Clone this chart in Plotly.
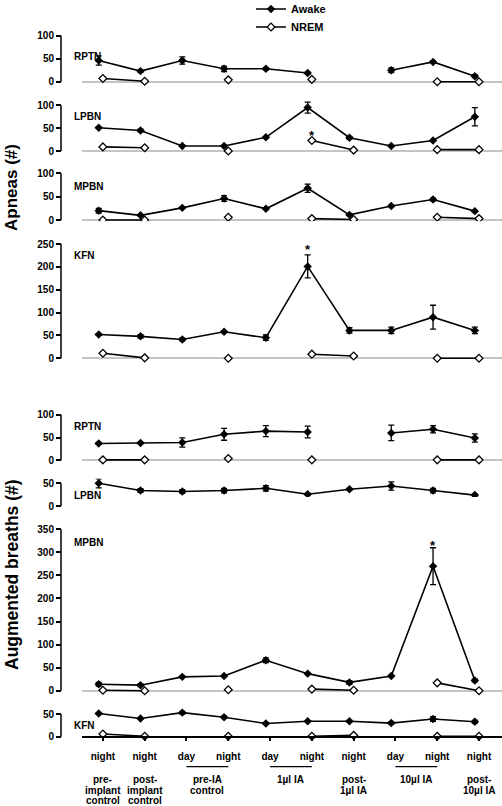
import plotly.graph_objects as go

W, H = 502, 806

# ---------------- data ----------------
CATEGORIES = ["pre-implant night", "post-implant night", "pre-IA day", "pre-IA night",
              "1ul day", "1ul night", "post-1ul night", "10ul day", "10ul night", "post-10ul night"]
TICK_TEXT = ["night", "night", "day", "night", "day", "night", "night", "day", "night", "night"]
GROUP_LABELS = [(0, ["pre-", "implant", "control"]),
                (1, ["post-", "implant", "control"]),
                (2.5, ["pre-IA", "control"]),
                (4.5, ["1µl IA"]),
                (6, ["post-", "1µl IA"]),
                (7.5, ["10µl IA"]),
                (9, ["post-", "10µl IA"])]
GROUP_UNDERLINES = [(2, 3), (4, 5), (7, 8)]

# Apneas (#)
APN_RPTN_AWAKE = [46, 23, 46, 28, 28, 19, None, 25, 43, 12]
APN_RPTN_AWAKE_SE = [10, 2, 8, 6, 2, 2, 0, 5, 2, 3]
APN_RPTN_NREM = [7, 1, None, 4, None, 5, None, None, 0, 0]

APN_LPBN_AWAKE = [51, 45, 11, 11, 30, 95, 29, 11, 23, 75]
APN_LPBN_AWAKE_SE = [1, 3, 1, 1, 1, 12, 3, 1, 1, 20]
APN_LPBN_NREM = [9, 7, None, 0, None, 23, 2, None, 3, 3]

APN_MPBN_AWAKE = [20, 10, 26, 46, 24, 68, 11, 30, 44, 19]
APN_MPBN_AWAKE_SE = [5, 1, 1, 6, 1, 9, 1, 1, 3, 1]
APN_MPBN_NREM = [0, 0, None, 6, None, 3, 1, None, 6, 3]

APN_KFN_AWAKE = [52, 48, 41, 58, 45, 201, 61, 61, 90, 61]
APN_KFN_AWAKE_SE = [2, 4, 3, 2, 6, 25, 6, 7, 26, 7]
APN_KFN_NREM = [11, 1, None, 0, None, 9, 5, None, 0, 0]

# Augmented breaths (#)
AUG_RPTN_AWAKE = [37, 38, 39, 57, 64, 62, None, 60, 68, 49]
AUG_RPTN_AWAKE_SE = [2, 1, 10, 13, 12, 13, 0, 17, 8, 9]
AUG_RPTN_NREM = [1, 1, None, 4, None, 1, None, None, 1, 1]

AUG_LPBN_AWAKE = [50, 34, 32, 34, 39, 26, 37, 44, 34, 24]
AUG_LPBN_AWAKE_SE = [10, 4, 4, 5, 6, 2, 2, 9, 5, 2]
AUG_LPBN_NREM = [0, 4, None, 1, None, 1.5, 1.5, None, 4, 1.5]

AUG_MPBN_AWAKE = [14, 12, 30, 32, 66, 37, 18, 32, 270, 22]
AUG_MPBN_AWAKE_SE = [4, 3, 1, 1, 5, 1, 4, 1, 40, 3]
AUG_MPBN_NREM = [1, 0, None, 2, None, 3.5, 1, None, 17, 0]

AUG_KFN_AWAKE = [51, 40, 53, 43, 29, 34, 34, 30, 39, 33]
AUG_KFN_AWAKE_SE = [1, 1, 3, 2, 1, 1, 2, 3, 5, 3]
AUG_KFN_NREM = [6, 1, None, 1, None, 1, 3, None, 1, 1]

# significance marks: (panel number, series, category index, height of the mark in data units)
STARS = [(2, "nrem", 5, 40), (4, "awake", 5, 243), (7, "awake", 8, 321)]

# panel: (label, awake, awake_se, nrem, tickvals, axis top, zero pixel, top pixel, label pixel y)
PANELS = [
    ("RPTN", APN_RPTN_AWAKE, APN_RPTN_AWAKE_SE, APN_RPTN_NREM, [0, 50, 100], 100, 81.7, 35.7, 56.7),
    ("LPBN", APN_LPBN_AWAKE, APN_LPBN_AWAKE_SE, APN_LPBN_NREM, [0, 50, 100], 100, 151.0, 105.3, 116.7),
    ("MPBN", APN_MPBN_AWAKE, APN_MPBN_AWAKE_SE, APN_MPBN_NREM, [0, 50, 100], 100, 220.0, 173.3, 186.7),
    ("KFN", APN_KFN_AWAKE, APN_KFN_AWAKE_SE, APN_KFN_NREM, [0, 50, 100, 150, 200, 250], 250, 358.3, 244.0, 255.0),
    ("RPTN", AUG_RPTN_AWAKE, AUG_RPTN_AWAKE_SE, AUG_RPTN_NREM, [0, 50, 100], 100, 460.3, 414.7, 426.0),
    ("LPBN", AUG_LPBN_AWAKE, AUG_LPBN_AWAKE_SE, AUG_LPBN_NREM, [0, 50], 50, 506.0, 483.3, 495.3),
    ("MPBN", AUG_MPBN_AWAKE, AUG_MPBN_AWAKE_SE, AUG_MPBN_NREM, [0, 50, 100, 150, 200, 250, 300, 350], 350, 690.7, 529.3, 542.7),
    ("KFN", AUG_KFN_AWAKE, AUG_KFN_AWAKE_SE, AUG_KFN_NREM, [0, 50], 50, 736.7, 714.0, 725.0),
]

# ---------------- style ----------------
FONT = "Liberation Sans, Arial, sans-serif"
AWAKE_SHIFT = -0.1
X_LEFT_PX, YAXIS_PX = 82, 61
X_RANGE = [-0.5, 9.55]

def fy(px):
    return 1 - px / H

fig = go.Figure()
shapes, annotations = [], []
layout = {}

for i, (lab, aw, aw_se, nr, tv, top, p0, ptop, plab) in enumerate(PANELS, start=1):
    sfx = "" if i == 1 else str(i)
    s = (p0 - ptop) / top
    lo, hi = -0.12 * top, 1.2 * top
    dom = [fy(p0 - s * lo), fy(p0 - s * hi)]
    last = i == len(PANELS)

    xa = dict(domain=[X_LEFT_PX / W, 1], range=X_RANGE, showgrid=False, zeroline=False,
              showline=False, showticklabels=False, ticks="", anchor="y" + sfx)
    if last:
        xa.update(anchor="free", position=fy(p0), showline=True, linecolor="black", linewidth=1.5,
                  ticks="outside", ticklen=4, tickwidth=1.5, tickcolor="black",
                  tickmode="array", tickvals=list(range(len(TICK_TEXT))), ticktext=TICK_TEXT,
                  ticklabelstandoff=7,
                  showticklabels=True, tickfont=dict(family=FONT, size=10, color="black", weight="bold"))
    ya = dict(domain=dom, range=[lo, hi], anchor="free", position=YAXIS_PX / W,
              showgrid=False, showline=False, zeroline=not last, zerolinecolor="#c4c4c4",
              zerolinewidth=1.5, tickmode="array", tickvals=tv, ticks="outside", ticklen=5,
              tickwidth=1.5, tickcolor="black",
              tickfont=dict(family=FONT, size=10, color="black", weight="bold"))
    layout["xaxis" + sfx] = xa
    layout["yaxis" + sfx] = ya

    shapes.append(dict(type="line", xref="paper", yref="y" + sfx, x0=YAXIS_PX / W, x1=YAXIS_PX / W,
                       y0=0, y1=top, line=dict(color="black", width=1.5)))

    xs = list(range(len(CATEGORIES)))
    fig.add_trace(go.Scatter(
        x=[x + AWAKE_SHIFT for x in xs], y=aw, mode="lines+markers", name="Awake",
        legendgroup="awake", legend="legend", showlegend=(i == 1), connectgaps=False, cliponaxis=False,
        line=dict(color="black", width=1.6),
        marker=dict(symbol="diamond", size=6.5, color="black"),
        error_y=dict(type="data", array=aw_se, color="black", thickness=1.3, width=3),
        xaxis="x" + sfx, yaxis="y" + sfx))
    fig.add_trace(go.Scatter(
        x=xs, y=nr, mode="lines+markers", name="NREM",
        legendgroup="nrem", legend="legend2", showlegend=(i == 1), connectgaps=False, cliponaxis=False,
        line=dict(color="black", width=1.6),
        marker=dict(symbol="diamond", size=6, color="white", line=dict(color="black", width=1.3)),
        xaxis="x" + sfx, yaxis="y" + sfx))

    annotations.append(dict(text="<b>%s</b>" % lab, xref="paper", yref="paper", x=72 / W, y=fy(plab),
                            xanchor="left", yanchor="middle", showarrow=False,
                            font=dict(family=FONT, size=10, color="black")))

for pnum, series, idx, sy in STARS:
    sfx = "" if pnum == 1 else str(pnum)
    sx = idx + (AWAKE_SHIFT if series == "awake" else 0)
    annotations.append(dict(text="<b>*</b>", xref="x" + sfx, yref="y" + sfx, x=sx, y=sy,
                            xanchor="center", yanchor="middle", yshift=-2.5, showarrow=False,
                            font=dict(family=FONT, size=13, color="black")))

# bottom group labels
GROUP_LINE_PX = [779.3, 790.0, 800.7]
for gx, lines in GROUP_LABELS:
    for k, t in enumerate(lines):
        annotations.append(dict(text="<b>%s</b>" % t, xref="x8", yref="paper", x=gx, y=fy(GROUP_LINE_PX[k]),
                                xanchor="center", yanchor="middle", showarrow=False,
                                font=dict(family=FONT, size=10, color="black")))
for a, b in GROUP_UNDERLINES:
    shapes.append(dict(type="line", xref="x8", yref="paper", x0=a, x1=b, y0=fy(766.7), y1=fy(766.7),
                       line=dict(color="black", width=1.2)))

# y-axis titles
annotations.append(dict(text="<b>Apneas (#)</b>", xref="paper", yref="paper", x=12 / W, y=fy(188),
                        textangle=-90, showarrow=False, xanchor="center", yanchor="middle",
                        font=dict(family=FONT, size=17, color="black")))
annotations.append(dict(text="<b>Augmented breaths (#)</b>", xref="paper", yref="paper", x=12 / W, y=fy(575),
                        textangle=-90, showarrow=False, xanchor="center", yanchor="middle",
                        font=dict(family=FONT, size=17.5, color="black")))

LEG = dict(x=251 / W, xanchor="left", yanchor="middle", bgcolor="rgba(0,0,0,0)",
           font=dict(family=FONT, size=11, color="black", weight="bold"),
           itemwidth=30, tracegroupgap=0)
fig.update_layout(
    width=W, height=H, margin=dict(l=0, r=0, t=0, b=0, autoexpand=False),
    paper_bgcolor="white", plot_bgcolor="white",
    showlegend=True,
    legend=dict(LEG, y=fy(9)),
    legend2=dict(LEG, y=fy(27)),
    shapes=shapes, annotations=annotations,
    **layout)

fig.write_html("out.html", config={"displayModeBar": False},
               post_script="document.body.style.margin='0px';")
